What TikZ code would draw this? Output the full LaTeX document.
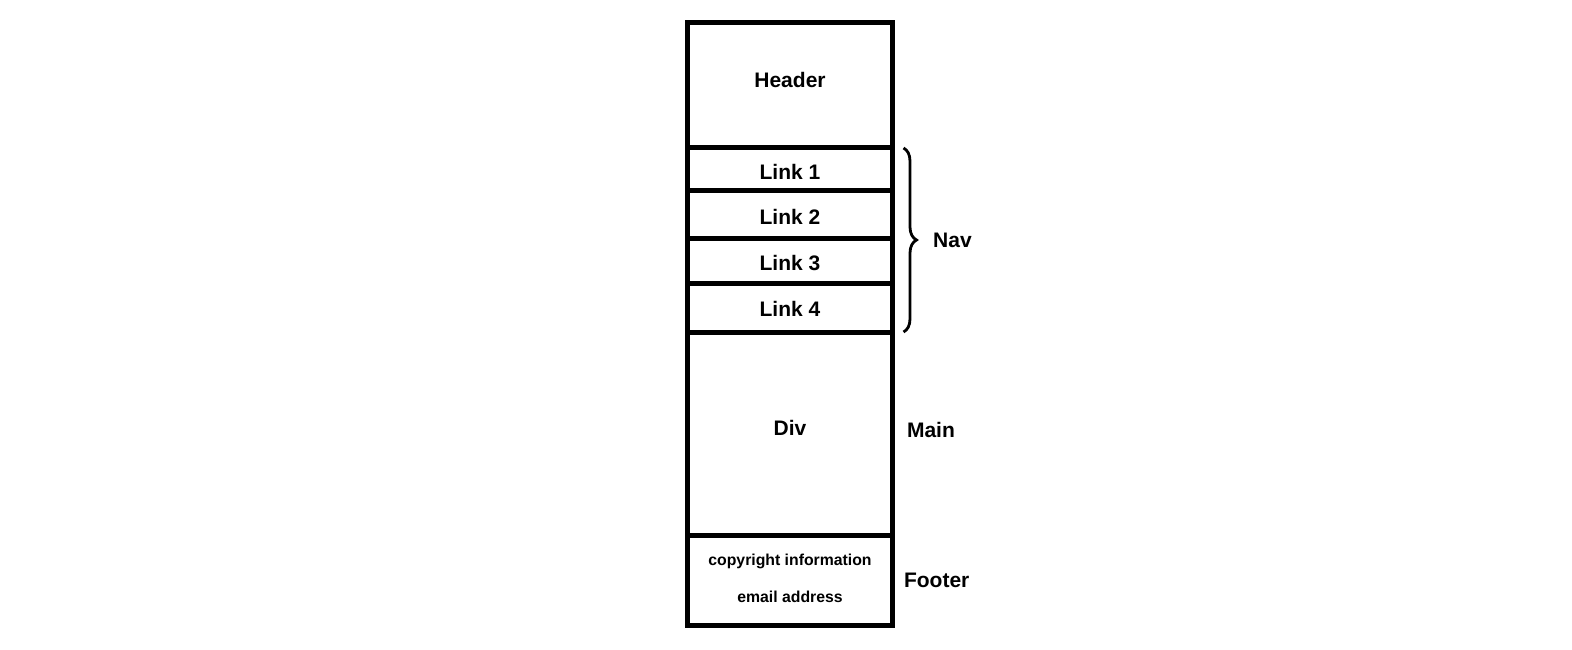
\documentclass[tikz,border=0pt]{standalone}
\usepackage{fontspec}
\setmainfont{Liberation Sans}
\usetikzlibrary{positioning, decorations.pathreplacing}

\begin{document}
\begin{tikzpicture}
		[
		x=1pt, y=-1pt, font=\bfseries\fontsize{21}{25}\selectfont,
		feld/.style={draw, line width=5pt, minimum width=205pt, inner sep=0pt, outer sep=0pt, anchor=north}
		%Kasten der Seite
		]
		
		%Rahmen des Bildes
		\useasboundingbox (0,0) rectangle (1572,650);
		
		%Kopf
		\node[feld, minimum height=125pt] (header) at (790,23) {\raisebox{12pt}{Header}};
		
		%Links der Navigation
		\node[feld, minimum height=42pt] (link1) at (header.south) {\rule{0pt}{21pt}Link 1};
		\node[feld, minimum height=48pt] (link2) at (link1.south) {\rule{0pt}{21pt}Link 2};
		\node[feld, minimum height=45pt] (link3) at (link2.south) {\rule{0pt}{21pt}Link 3};
		\node[feld, minimum height=49pt] (link4) at (link3.south) {\rule{0pt}{17pt}Link 4};
		
		%Hauptbereich
		\node[feld, minimum height=203pt] (div) at (link4.south) {\raisebox{12pt}{Div}};
		
		%Fuss
		\node[feld, minimum height=90pt, align=center, font=\bfseries\fontsize{15.8}{19}\selectfont] (footer) at (div.south) {\raisebox{4pt}{copyright information}\\[18pt]\raisebox{4pt}{email address}};
		
		%Klammer Nav
		\draw[decorate, decoration={brace, amplitude=13pt}, line width=2.8pt] ([xshift=11pt]link1.north east) -- ([xshift=11pt]link4.south east) node[midway, right=25pt] (nav) {Nav};
		
		%Beschriftung rechts
		\node[right=11pt of div] (main) {\raisebox{8pt}{Main}};
		\node[right=8pt of footer] (foot) {Footer};
	\end{tikzpicture}
\end{document}
